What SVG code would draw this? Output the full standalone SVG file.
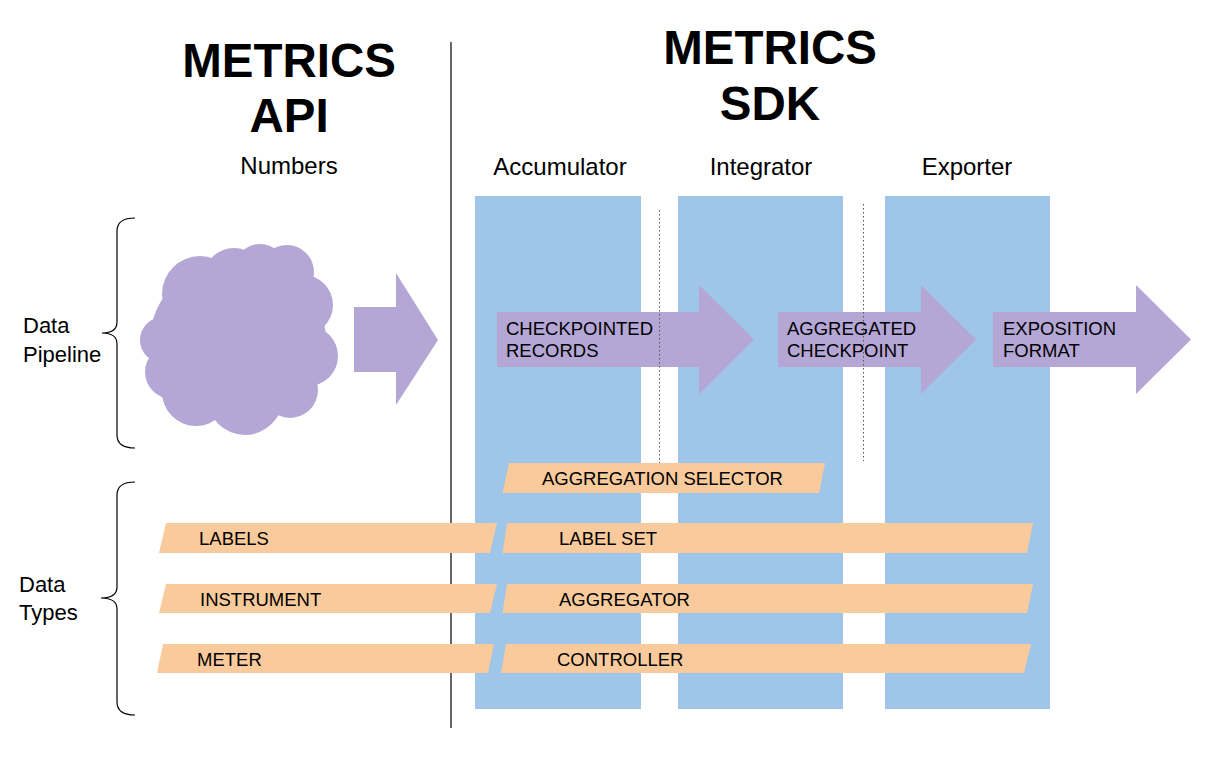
<svg xmlns="http://www.w3.org/2000/svg" width="1223" height="761" viewBox="0 0 1223 761">
<style>
text{font-family:"Liberation Sans",Arial,sans-serif;fill:#000}
.title{font-size:47.5px;font-weight:bold;text-anchor:middle}
.head{font-size:24px;text-anchor:middle}
.side{font-size:22px}
.lbl{font-size:18.5px}
.col{fill:#9fc5e8}
.arr{fill:#b4a7d6}
.bar{fill:#f9cb9c}
.brace{fill:none;stroke:#000;stroke-width:1.2}
.dot{fill:none;stroke:#555;stroke-width:1;stroke-dasharray:1.5 2.5}
</style>
<rect width="1223" height="761" fill="#fff"/>
<g id="titles">
<text class="title" x="289" y="77">METRICS</text>
<text class="title" x="289" y="132">API</text>
<text class="title" x="770" y="64">METRICS</text>
<text class="title" x="770" y="120">SDK</text>
<text class="head" x="289" y="174">Numbers</text>
</g>
<line x1="451" y1="42" x2="451" y2="728" stroke="#000" stroke-width="1.2"/>
<g id="accumulator"><rect class="col" x="475" y="196" width="166" height="513"/><text class="head" x="560" y="175">Accumulator</text></g>
<g id="integrator"><rect class="col" x="678" y="196" width="165" height="513"/><text class="head" x="761" y="175">Integrator</text></g>
<g id="exporter"><rect class="col" x="885" y="196" width="165" height="513"/><text class="head" x="967" y="175">Exporter</text></g>
<g id="data-pipeline"><text class="side" x="23" y="333">Data</text><text class="side" x="23" y="362">Pipeline</text>
<path class="brace" d="M135,218 Q117,218 117,231 L117,322 Q117,333 102,333 Q117,333 117,344 L117,435 Q117,448 135,448"/></g>
<g id="data-types"><text class="side" x="19" y="592">Data</text><text class="side" x="19" y="620">Types</text>
<path class="brace" d="M135,482 Q117,482 117,495 L117,587 Q117,598 101,598 Q117,598 117,609 L117,702 Q117,715 135,715"/></g>
<g id="cloud" class="arr">
<ellipse cx="238" cy="340" rx="88" ry="80"/>
<circle cx="200" cy="294" r="38"/>
<circle cx="234" cy="278" r="30"/>
<circle cx="260" cy="270" r="26"/>
<circle cx="287" cy="272" r="27"/>
<circle cx="303" cy="305" r="30"/>
<circle cx="308" cy="356" r="30"/>
<circle cx="290" cy="390" r="28"/>
<circle cx="245" cy="397" r="38"/>
<circle cx="196" cy="392" r="34"/>
<circle cx="172" cy="372" r="27"/>
<circle cx="163" cy="340" r="23"/>
</g>
<g id="connectors">
<polygon id="arrow-api" class="arr" points="354,307 396,307 396,273 438,340 396,405 396,372 354,372"/>
</g>
<g id="checkpointed-records"><polygon class="arr" points="497,312 699,312 699,285 754,339.5 699,394 699,367 497,367"/>
<text class="lbl" x="506" y="335">CHECKPOINTED</text><text class="lbl" x="506" y="357">RECORDS</text></g>
<g id="aggregated-checkpoint"><polygon class="arr" points="778,312 921,312 921,285 976,339.5 921,394 921,367 778,367"/>
<text class="lbl" x="787" y="335">AGGREGATED</text><text class="lbl" x="787" y="357">CHECKPOINT</text></g>
<g id="exposition-format"><polygon class="arr" points="993,312 1136,312 1136,285 1191,339.5 1136,394 1136,367 993,367"/>
<text class="lbl" x="1003" y="335">EXPOSITION</text><text class="lbl" x="1003" y="357">FORMAT</text></g>
<g id="dividers">
<line class="dot" x1="659.5" y1="210" x2="659.5" y2="463"/>
<line class="dot" x1="863.5" y1="204" x2="863.5" y2="461"/>
</g>
<g id="aggregation-selector"><polygon class="bar" points="509,463 825,463 819,493 502.5,493"/><text class="lbl" x="542" y="485">AGGREGATION SELECTOR</text></g>
<g id="labels"><polygon class="bar" points="166,523 497,523 490,553 159,553"/><text class="lbl" x="199" y="545">LABELS</text></g>
<g id="label-set"><polygon class="bar" points="507,523 1033,523 1027,553 502.5,553"/><text class="lbl" x="559" y="545">LABEL SET</text></g>
<g id="instrument"><polygon class="bar" points="166,584 497,584 490,613 159,613"/><text class="lbl" x="200" y="606">INSTRUMENT</text></g>
<g id="aggregator"><polygon class="bar" points="507,584 1033,584 1027,613 502.5,613"/><text class="lbl" x="559" y="606">AGGREGATOR</text></g>
<g id="meter"><polygon class="bar" points="163,644 494,644 488,673 157,673"/><text class="lbl" x="197" y="666">METER</text></g>
<g id="controller"><polygon class="bar" points="506,644 1031,644 1024,673 501,673"/><text class="lbl" x="557" y="666">CONTROLLER</text></g>
</svg>
